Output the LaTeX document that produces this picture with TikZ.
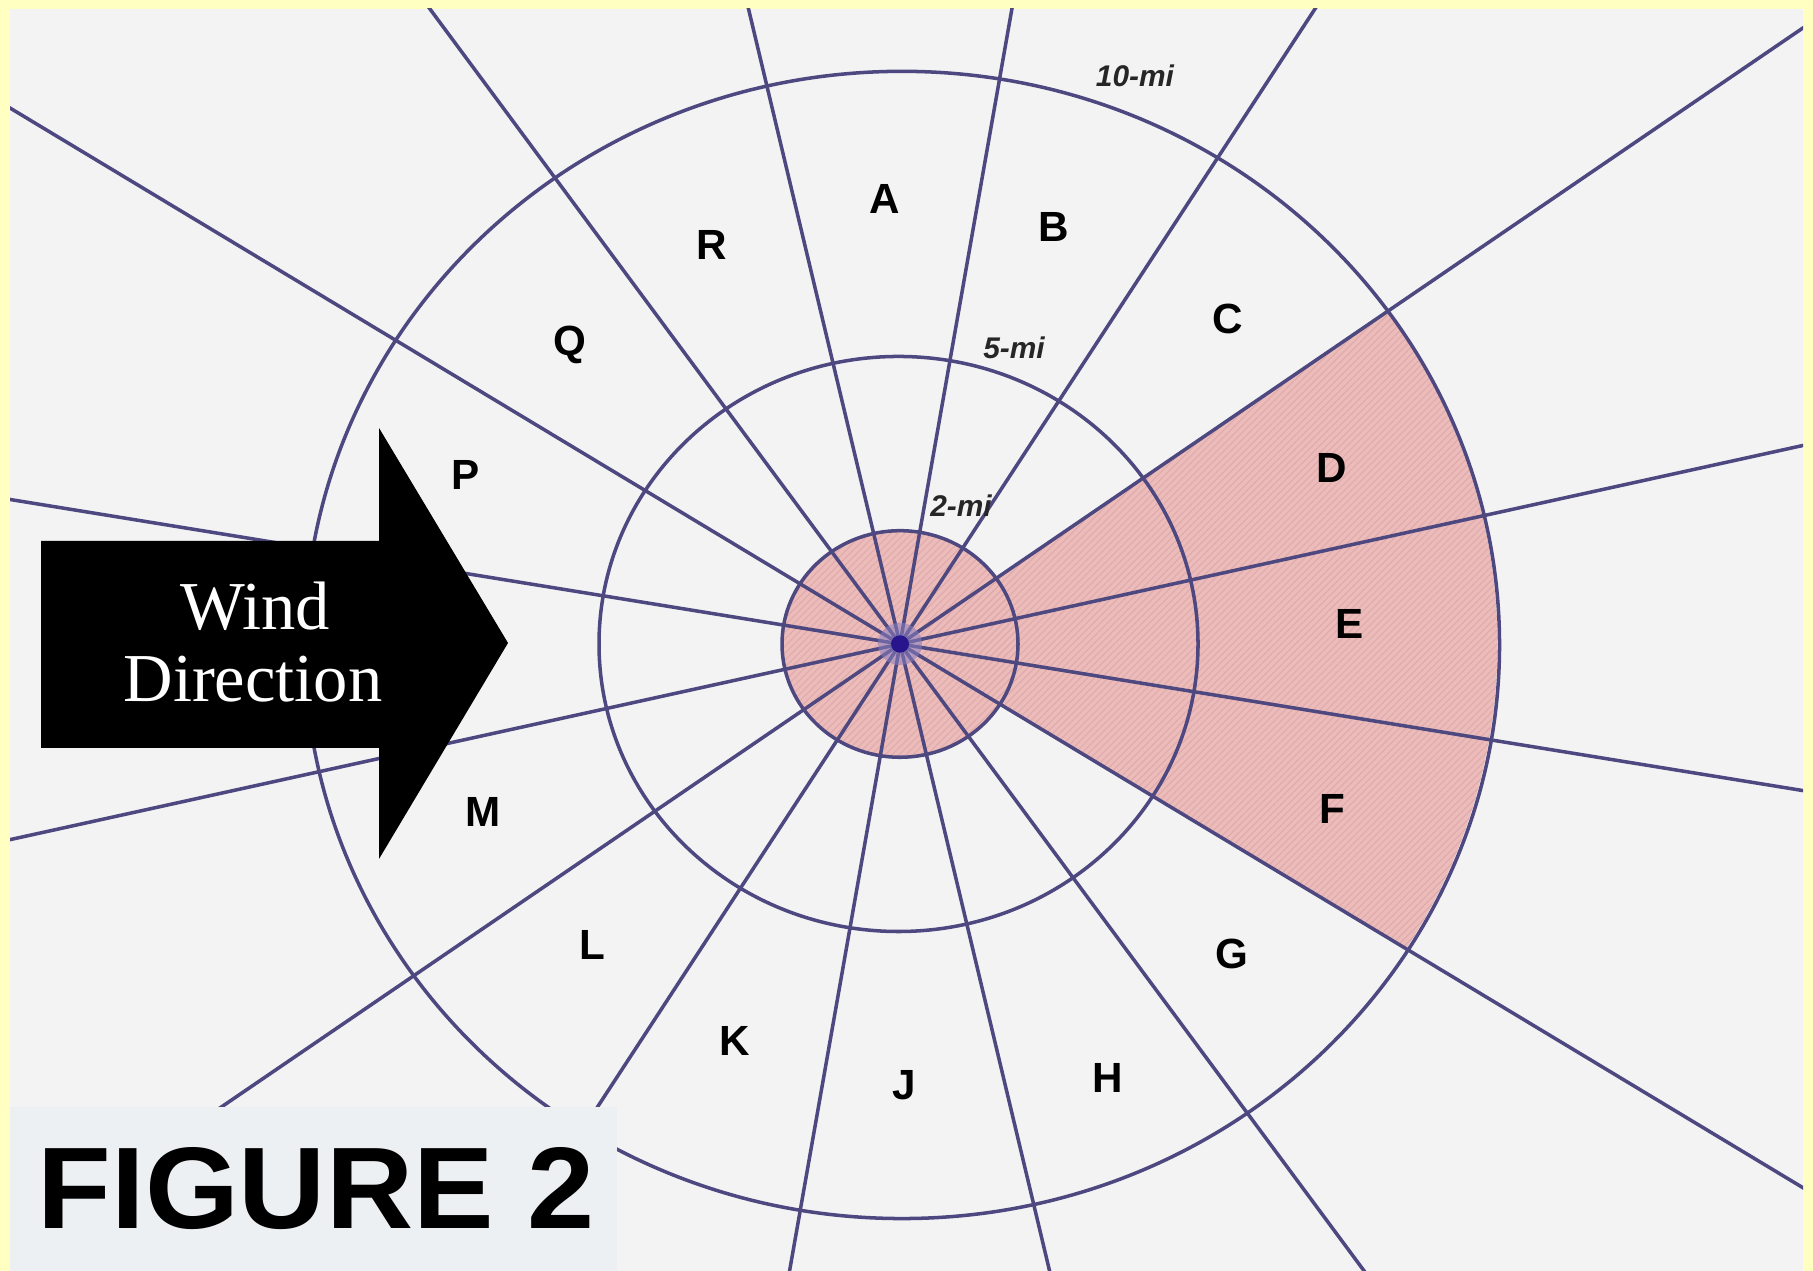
\documentclass[tikz,border=0pt]{standalone}
\usepackage{fontspec}
\setmainfont{Liberation Serif}
\setsansfont{Liberation Sans}
\usetikzlibrary{patterns.meta}

\definecolor{bgyellow}{RGB}{255,255,194}
\definecolor{bggrey}{RGB}{243,243,244}
\definecolor{boxgrey}{RGB}{237,240,243}
\definecolor{gridline}{RGB}{78,72,128}
\definecolor{zonepink}{RGB}{236,188,186}
\definecolor{hatchpink}{RGB}{224,170,172}
\definecolor{dotblue}{RGB}{40,20,140}

\begin{document}
\begin{tikzpicture}[x=0.01cm,y=0.01cm,
  grid/.style={draw=gridline, line width=1pt},
  sectorlbl/.style={font=\sffamily\bfseries\fontsize{12}{14}\selectfont, text=black, inner sep=0pt},
  ringlbl/.style={font=\sffamily\bfseries\itshape\fontsize{8.5}{10}\selectfont, text=black!85, inner sep=0pt},
  windtxt/.style={font=\fontsize{19.5}{22}\selectfont, text=white, inner sep=0pt, anchor=base},
]
\useasboundingbox (0,0) rectangle (1813,1271);
\fill[bgyellow] (0,0) rectangle (1813,1271);
\fill[bggrey] (10,0) rectangle (1803,1262);

\begin{scope}
  \clip (10,0) rectangle (1803,1262);
  \begin{scope}[shift={(900,627)}, yscale=0.96]
    \coordinate (c) at (0,0);
    % shaded zone: 2-mi circle plus sectors D, E, F to 10 mi
    \fill[zonepink] (c) -- (-32.1:597.5) arc[start angle=-32.1, end angle=35.4, radius=597.5] -- cycle;
    \fill[zonepink] (c) circle[radius=118];
    \fill[pattern={Lines[angle=45,distance=1.4pt,line width=0.3pt]}, pattern color=hatchpink]
      (c) -- (-32.1:597.5) arc[start angle=-32.1, end angle=35.4, radius=597.5] -- cycle;
    \fill[pattern={Lines[angle=45,distance=1.4pt,line width=0.3pt]}, pattern color=hatchpink]
      (c) circle[radius=118];
    % sector boundaries
    \foreach \k in {0,...,15} {
      \draw[grid] (c) -- ({12.9+22.5*\k}:1500);
    }
    % distance rings
    \draw[grid] (c) circle[radius=118];
    \draw[grid] (-1.5,0) circle[radius=299.5];
    \draw[grid] (2,-1) circle[radius=597.5];
    % centre
    \fill[dotblue!55, opacity=0.55] (c) circle[radius=22];
    \fill[dotblue] (c) circle[radius=9];
  \end{scope}
\end{scope}

% ring labels
\node[ringlbl] (r10) at (1135,1195) {10-mi};
\node[ringlbl] (r5) at (1014,923) {5-mi};
\node[ringlbl] (r2) at (961,765) {2-mi};

% sector labels
\node[sectorlbl] (sA) at (885,1072) {A};
\node[sectorlbl] (sB) at (1054,1044) {B};
\node[sectorlbl] (sC) at (1228,952) {C};
\node[sectorlbl] (sD) at (1332,803) {D};
\node[sectorlbl] (sE) at (1350,647) {E};
\node[sectorlbl] (sF) at (1332,462) {F};
\node[sectorlbl] (sG) at (1232,317) {G};
\node[sectorlbl] (sH) at (1108,193) {H};
\node[sectorlbl] (sJ) at (904,186) {J};
\node[sectorlbl] (sK) at (735,230) {K};
\node[sectorlbl] (sL) at (592,326) {L};
\node[sectorlbl] (sM) at (483,459) {M};
\node[sectorlbl] (sP) at (466,796) {P};
\node[sectorlbl] (sQ) at (570,926) {Q};
\node[sectorlbl] (sR) at (712,1026) {R};

% wind direction arrow
\fill[black] (41,730) -- (379,730) -- (379,843) -- (508,628) -- (379,412) -- (379,523) -- (41,523) -- cycle;
\node[windtxt] (w1) at (255,641) {Wind};
\node[windtxt] (w2) at (253,569) {Direction};

% figure caption box
\fill[boxgrey] (10,0) rectangle (617,164);
\node[anchor=base west, inner sep=0pt, xscale=1.04, font=\sffamily\bfseries\fontsize{33}{40}\selectfont] (fig) at (37,42) {FIGURE 2};
\end{tikzpicture}
\end{document}
